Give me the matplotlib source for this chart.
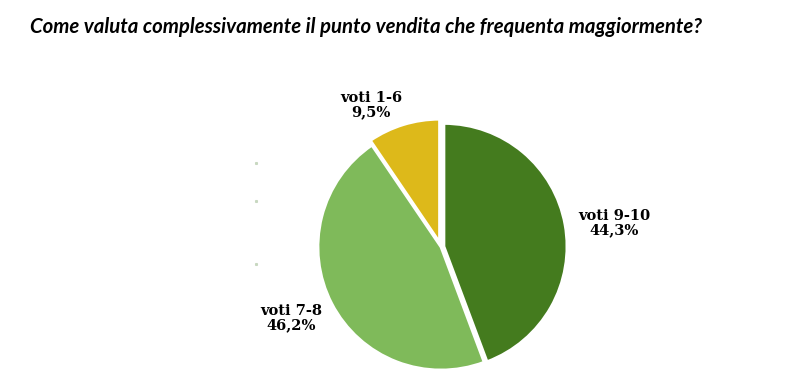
import matplotlib.pyplot as plt

title = "Come valuta complessivamente il punto vendita che frequenta maggiormente?"
labels = ["voti 9-10", "voti 7-8", "voti 1-6"]
values = [44.3, 46.2, 9.5]
colors = ["#447B1E", "#7FBA5A", "#DDB91A"]
explode = [3, 0, 5]  # offsets in pixels

# label positions in pixels (x, y from top)
label_pos = [(614, 223), (291, 318), (371, 105)]

W, H = 800, 386
fig = plt.figure(figsize=(8, 3.86), dpi=100)
ax = fig.add_axes([0, 0, 1, 1])

ax.pie(values, colors=colors, explode=explode, startangle=90, counterclock=False,
       center=(441, H - 247), radius=123,
       wedgeprops=dict(edgecolor="white", linewidth=2))

ax.set_xlim(0, W)
ax.set_ylim(0, H)
ax.set_aspect("equal")
ax.axis("off")

for lab, v, (x, y) in zip(labels, values, label_pos):
    txt = lab + "\n" + ("%.1f" % v).replace(".", ",") + "%"
    ax.text(x, H - y, txt, ha="center", va="center", fontsize=10.5,
            fontweight="bold", family="DejaVu Serif", linespacing=1.05,
            color="black")

# faint leftover axis ticks
for y in [163, 201, 264]:
    ax.plot([256], [H - y], marker="s", markersize=1.2, color="#c8d8c0", lw=0)

fig.text(30 / W, 1 - 27 / H, title, ha="left", va="center", fontsize=14.7,
         fontweight="bold", fontstyle="italic", family="Lato")

fig.savefig("out.png", dpi=100, facecolor="white")
